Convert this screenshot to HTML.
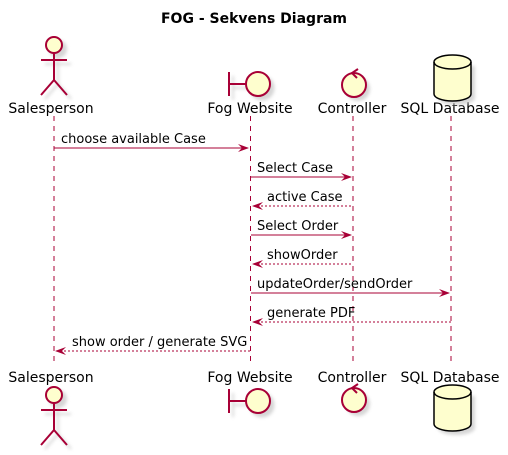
<!DOCTYPE html>
<html><head><meta charset="utf-8"><style>body{margin:0;background:#fff}svg{display:block}</style></head><body>
<svg width="508" height="455" xmlns="http://www.w3.org/2000/svg" font-family="DejaVu Sans, Liberation Sans, sans-serif">
<defs><filter id="sh" x="-20%" y="-20%" width="150%" height="150%"><feGaussianBlur stdDeviation="1.5"/></filter></defs>
<text x="254" y="23" text-anchor="middle" font-size="14" font-weight="bold">FOG - Sekvens Diagram</text>
<g stroke="#A80036" stroke-width="1" stroke-dasharray="5,5">
<line x1="54" y1="116" x2="54" y2="366"/><line x1="250.5" y1="116" x2="250.5" y2="366"/>
<line x1="353" y1="116" x2="353" y2="366"/><line x1="451" y1="116" x2="451" y2="366"/>
</g>
<g font-size="14" fill="#000">
<text x="51" y="113" text-anchor="middle">Salesperson</text><text x="250" y="113" text-anchor="middle">Fog Website</text>
<text x="352" y="113" text-anchor="middle">Controller</text><text x="450" y="113" text-anchor="middle">SQL Database</text>
<text x="51" y="382" text-anchor="middle">Salesperson</text><text x="250" y="382" text-anchor="middle">Fog Website</text>
<text x="352" y="382" text-anchor="middle">Controller</text><text x="450" y="382" text-anchor="middle">SQL Database</text>
</g>
<g id="act">
<g transform="translate(4,4)" stroke="#ccc" stroke-width="2" fill="#ccc" filter="url(#sh)" opacity="0.8"><circle cx="54" cy="45" r="8"/><path d="M54 53V80M41 60H67M54 80L41 95M54 80L67 95" fill="none"/></g>
<circle cx="54" cy="45" r="8" fill="#FEFECE" stroke="#A80036" stroke-width="2"/>
<path d="M54 53V80M41 60H67M54 80L41 95M54 80L67 95" stroke="#A80036" stroke-width="2" fill="none"/>
</g>
<use href="#act" transform="translate(0,350)"/>
<g id="bnd">
<g transform="translate(4,4)" fill="#ccc" stroke="#ccc" filter="url(#sh)" opacity="0.8"><circle cx="258" cy="84" r="12"/><path d="M229 72V96M229 84H246" stroke-width="2"/></g>
<path d="M229 72V96M229 84H246" stroke="#A80036" stroke-width="2"/>
<circle cx="258" cy="84" r="12" fill="#FEFECE" stroke="#A80036" stroke-width="2"/>
</g>
<use href="#bnd" transform="translate(0,317)"/>
<g id="ctl">
<circle cx="358" cy="89" r="12" fill="#ccc" filter="url(#sh)" opacity="0.8"/>
<circle cx="354" cy="85" r="12" fill="#FEFECE" stroke="#A80036" stroke-width="2"/>
<path d="M358 69L352 73L357 78" stroke="#A80036" stroke-width="2" fill="none"/>
</g>
<use href="#ctl" transform="translate(0,315)"/>
<g id="db">
<path d="M438 66V98A18.5 7 0 0 0 475 98V66Z" fill="#ccc" filter="url(#sh)" opacity="0.8"/>
<path d="M434 62V94A18.5 7 0 0 0 471 94V62A18.5 7 0 0 0 434 62Z" fill="#FEFECE" stroke="#000" stroke-width="1.5"/>
<path d="M434 62A18.5 7 0 0 0 471 62" fill="none" stroke="#000" stroke-width="1.5"/>
</g>
<use href="#db" transform="translate(0,330)"/>
<g stroke="#A80036" stroke-width="1" fill="none">
<line x1="54" y1="148" x2="248" y2="148"/>
<line x1="251" y1="177" x2="351" y2="177"/>
<line x1="253" y1="206" x2="353" y2="206" stroke-dasharray="2,2"/>
<line x1="251" y1="235" x2="351" y2="235"/>
<line x1="253" y1="264" x2="353" y2="264" stroke-dasharray="2,2"/>
<line x1="251" y1="293" x2="449" y2="293"/>
<line x1="253" y1="322" x2="451" y2="322" stroke-dasharray="2,2"/>
<line x1="56" y1="351" x2="250" y2="351" stroke-dasharray="2,2"/>
</g>
<g fill="#A80036">
<path d="M238 144L249 148L238 152L242 148Z"/>
<path d="M341 173L352 177L341 181L345 177Z"/>
<path d="M263 202L252 206L263 210L259 206Z"/>
<path d="M341 231L352 235L341 239L345 235Z"/>
<path d="M263 260L252 264L263 268L259 264Z"/>
<path d="M439 289L450 293L439 297L443 293Z"/>
<path d="M263 318L252 322L263 326L259 322Z"/>
<path d="M66 347L55 351L66 355L62 351Z"/>
</g>
<g font-size="13" fill="#000">
<text x="61" y="143">choose available Case</text>
<text x="257" y="172">Select Case</text>
<text x="267" y="201">active Case</text>
<text x="257" y="230">Select Order</text>
<text x="267" y="259">showOrder</text>
<text x="257" y="288">updateOrder/sendOrder</text>
<text x="267" y="317">generate PDF</text>
<text x="72" y="346">show order / generate SVG</text>
</g>
</svg>
</body></html>
